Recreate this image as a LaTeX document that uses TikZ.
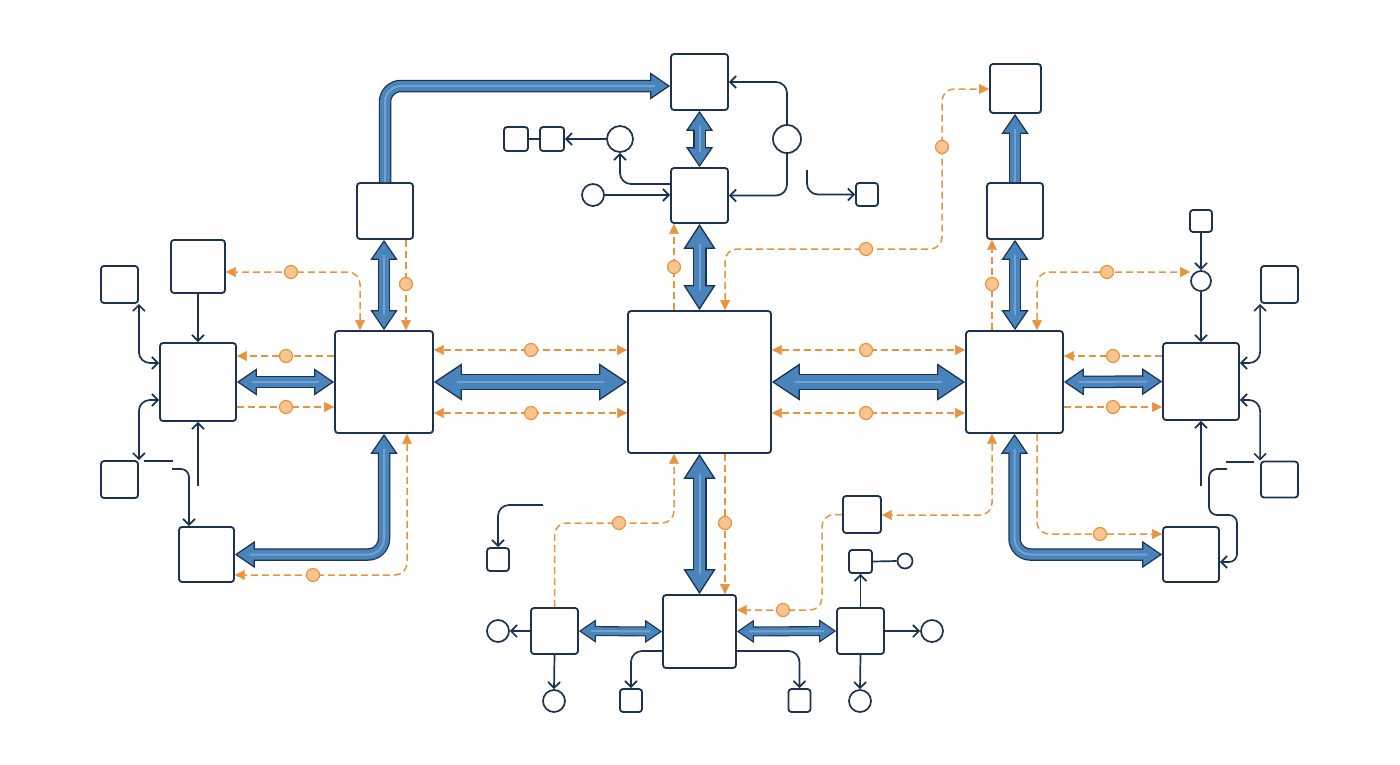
\documentclass[tikz,border=0pt]{standalone}
\usetikzlibrary{arrows.meta}
\definecolor{navy}{HTML}{1B3350}
\definecolor{ablue}{HTML}{4A84BC}
\definecolor{alight}{HTML}{7FAAD4}
\definecolor{aorange}{HTML}{E8943C}
\definecolor{ofill}{HTML}{F8C592}
\tikzset{
  XLtip/.tip={Triangle[width=37pt,length=28pt,fill=ablue,color=navy,line width=1.3pt]},
  Ltip/.tip={Triangle[width=32pt,length=25pt,fill=ablue,color=navy,line width=1.3pt]},
  Mtip/.tip={Triangle[width=27pt,length=20pt,fill=ablue,color=navy,line width=1.2pt]},
  Stip/.tip={Triangle[width=23pt,length=17pt,fill=ablue,color=navy,line width=1.1pt]},
  XLo/.style={draw=navy,line width=16pt}, XLi/.style={draw=ablue,line width=13.4pt},
  Lo/.style={draw=navy,line width=14pt},  Li/.style={draw=ablue,line width=11.5pt},
  Mo/.style={draw=navy,line width=12.5pt},  Mi/.style={draw=ablue,line width=10pt},
  So/.style={draw=navy,line width=10pt},  Si/.style={draw=ablue,line width=7.8pt},
  XLb/.style={shorten <=23pt,shorten >=23pt}, XLe/.style={shorten >=23pt},
  Lb/.style={shorten <=20pt,shorten >=20pt},  Le/.style={shorten >=20pt},
  Mb/.style={shorten <=15pt,shorten >=15pt},  Me/.style={shorten >=15pt},
  Sb/.style={shorten <=12pt,shorten >=12pt},  Se/.style={shorten >=12pt},
  XLbt/.style={arrows={XLtip-XLtip}}, XLet/.style={arrows={-XLtip}},
  Lbt/.style={arrows={Ltip-Ltip}},    Let/.style={arrows={-Ltip}},
  Mbt/.style={arrows={Mtip-Mtip}},    Met/.style={arrows={-Mtip}},
  Sbt/.style={arrows={Stip-Stip}},    Set/.style={arrows={-Stip}},
  stripe/.style={draw=alight,line width=2pt,draw opacity=0.8},
  tipline/.style={draw=ablue,line width=0.2pt},
  box/.style={draw=navy,line width=1.8pt,fill=white,rounded corners=3pt,inner sep=0pt},
  ring/.style={circle,draw=navy,line width=1.7pt,fill=white,inner sep=0pt},
  otip/.tip={Triangle[width=10pt,length=10pt,fill=aorange,color=aorange,line width=0.4pt]},
  ntip/.tip={Straight Barb[length=6pt,width=12pt]},
  odash/.style={draw=aorange,line width=1.5pt,dash pattern=on 7pt off 4pt,rounded corners=12pt},
  nav/.style={draw=navy,line width=1.7pt,rounded corners=11pt},
  omk/.style={circle,draw=aorange,line width=1.2pt,fill=ofill,inner sep=0pt,minimum size=13pt},
}
\newcommand\fat[3]{%
  \draw[#1o,#1#2,rounded corners=16pt] #3;
  \draw[tipline,#1#2t,rounded corners=16pt] #3;
  \draw[#1i,#1#2,rounded corners=16pt] #3;
  \draw[stripe,#1#2,rounded corners=16pt] #3;}
\newcommand\bx[5]{\node[box,minimum width=#4pt,minimum height=#5pt] (#1) at (#2,#3) {};}
\newcommand\rg[4]{\node[ring,minimum size=#4pt] (#1) at (#2,#3) {};}
\begin{document}
\begin{tikzpicture}[x=1pt,y=-1pt]
\fill[white] (0,0) rectangle (1400,764);
\useasboundingbox (0,0) rectangle (1400,764);
% main boxes
\bx{C}{699.5}{382}{143}{142}
\bx{L}{384}{382}{98}{102}
\bx{R}{1014.5}{382}{97}{102}
\bx{LL}{198}{382}{76}{78}
\bx{RR}{1201}{381.5}{76}{77}
\bx{TL}{385}{211}{56}{56}
\bx{T1}{699.5}{82}{57}{56}
\bx{T2}{699.5}{195.5}{57}{55}
\bx{TR1}{1015.5}{88.5}{51}{49}
\bx{TR2}{1015}{211}{56}{56}
\bx{B}{699.5}{631.5}{73}{73}
\bx{BL}{554.5}{631}{47}{46}
\bx{BR}{860.5}{631}{47}{46}
\bx{MB}{862}{514.5}{38}{37}
\bx{LLB}{206.5}{554.5}{55}{55}
\bx{RRB}{1191}{554.5}{56}{55}
\bx{ULB}{198}{266.5}{54}{53}
\bx{FLU}{119.5}{284.5}{37}{37}
\bx{FLD}{119.5}{479.5}{37}{37}
\bx{FRU}{1279.5}{284.5}{37}{37}
\bx{FRD}{1279.5}{479.5}{37}{36}
\bx{TRt}{1201}{221}{22}{22}
\bx{SQ1}{516}{139}{24}{24}
\bx{SQ2}{552}{139}{24}{24}
\bx{SB2}{867}{194.5}{22}{23}
\bx{SB3}{498}{559.5}{22}{23}
\bx{SB4}{860.5}{561.5}{23}{23}
\bx{BB1}{631}{700.5}{22}{23}
\bx{BB2}{799.5}{700.5}{22}{23}
% circles
\rg{RC}{1201}{281}{20}
\rg{TC1}{620}{139}{26}
\rg{TC2}{593}{195}{22}
\rg{TC3}{787}{139}{28}
\rg{SC4}{905}{561}{15}
\rg{BRc1}{932}{631}{22}
\rg{BRc2}{860}{701}{22}
\rg{BLc1}{498}{631}{22}
\rg{BLc2}{554}{701}{22}
% free ends
\coordinate (d1a) at (144,461); \coordinate (d1b) at (173,461);
\coordinate (n5s) at (172,469); \coordinate (n6s) at (198,486);
\coordinate (d2a) at (1226,462); \coordinate (d2b) at (1254,462);
\coordinate (n12s) at (1227,469); \coordinate (n13s) at (1201,486);
\coordinate (n20s) at (807,170); \coordinate (n21s) at (543,505);
% thick blue arrows
\fat{XL}{b}{(L.east) -- (C.west)}
\fat{XL}{b}{(C.east) -- (R.west)}
\fat{M}{b}{(LL.east) -- (L.west)}
\fat{M}{b}{(R.east) -- (RR.west)}
\fat{S}{b}{(BL.east) -- (B.west)}
\fat{S}{b}{(B.east) -- (BR.west)}
\fat{L}{b}{(C.south) -- (B.north)}
\fat{L}{b}{(T2.south) -- (C.north)}
\fat{M}{b}{(T1.south) -- (T2.north)}
\fat{M}{b}{(L.north |- TL.south) -- (L.north)}
\fat{M}{b}{(TR2.south) -- (R.north -| TR2.south)}
\fat{M}{e}{(TR2.north) -- (TR1.south -| TR2.north)}
\fat{M}{e}{(TL.north) |- (T1.west |- 0,86)}
\fat{M}{b}{(L.south) |- (LLB.east)}
\fat{M}{b}{(R.south) |- (RRB.west)}
% orange dashed connectors
\draw[odash,-otip] (L.west |- 0,356) -- (LL.east |- 0,356);
\draw[odash,-otip] (LL.east |- 0,407) -- (L.west |- 0,407);
\draw[odash,otip-otip] (L.north -| 360,0) |- (ULB.east |- 0,272);
\draw[odash,-otip] (TL.south -| 406,0) -- (L.north -| 406,0);
\draw[odash,otip-otip] (L.south -| 407,0) |- (LLB.east |- 0,575);
\draw[odash,otip-otip] (L.east |- 0,350) -- (C.west |- 0,350);
\draw[odash,otip-otip] (L.east |- 0,413) -- (C.west |- 0,413);
\draw[odash,otip-otip] (C.east |- 0,350) -- (R.west |- 0,350);
\draw[odash,otip-otip] (C.east |- 0,413) -- (R.west |- 0,413);
\draw[odash,-otip] (C.north -| 674,0) -- (T2.south -| 674,0);
\draw[odash,otip-otip] (C.north -| 725,0) |- (942,249) |- (TR1.west |- 0,89);
\draw[odash,-otip] (R.north -| 992,0) -- (TR2.south -| 992,0);
\draw[odash,otip-otip] (R.north -| 1037,0) |- (RC.west |- 0,272);
\draw[odash,-otip] (RR.west |- 0,356) -- (R.east |- 0,356);
\draw[odash,-otip] (R.east |- 0,407) -- (RR.west |- 0,407);
\draw[odash,otip-otip] (R.south -| 992,0) |- (MB.east |- 0,515);
\draw[odash,-otip] (R.south -| 1037,0) |- (RRB.west |- 0,534);
\draw[odash,-otip] (BL.north) |- (674,523) -- (C.south -| 674,0);
\draw[odash,-otip] (C.south -| 725,0) -- (B.north -| 725,0);
\draw[odash,-otip] (MB.west) -| (822,610) -- (B.east |- 0,610);
% orange markers
\foreach \n/\x/\y in {a/286/356,b/286/407,c/291/272,d/406/284,e/313/575,f/531/350,g/531/413,h/866/350,i/866/413,j/674/267,k/866/249,l/942/147,m/992/284,n/1107/272,o/1113/356,p/1113/407,q/1100/534,r/619/523,s/725/523,t/783/610}
  \node[omk] (mk\n) at (\x,\y) {};
% navy thin connectors
\draw[nav,-ntip] (ULB.south) -- (LL.north -| ULB.south);
\draw[nav,ntip-ntip] (FLU.south east) |- (LL.west |- 0,363);
\draw[nav,ntip-ntip] (LL.west |- 0,400) -| (FLD.north east);
\draw[nav] (d1a) -- (d1b);
\draw[nav,rounded corners=8pt,-ntip] (n5s) -| (LLB.north -| 189,0);
\draw[nav,-ntip] (n6s) -- (LL.south);
\draw[nav,-ntip] (TRt.south) -- (RC.north);
\draw[nav,-ntip] (RC.south) -- (RR.north);
\draw[nav,ntip-ntip] (FRU.south west) |- (RR.east |- 0,363);
\draw[nav,ntip-ntip] (RR.east |- 0,400) -| (FRD.north west);
\draw[nav] (d2a) -- (d2b);
\draw[nav,rounded corners=8pt,-ntip] (n12s) -| (1209,515) -| (1237,562) -- (RRB.east |- 0,562);
\draw[nav,-ntip] (n13s) -- (RR.south);
\draw[nav] (SQ1.east) -- (SQ2.west);
\draw[nav,-ntip] (TC1.west) -- (SQ2.east);
\draw[nav,-ntip] (T2.west |- 0,184) -| (TC1.south);
\draw[nav,-ntip] (TC2.east) -- (T2.west |- TC2.east);
\draw[nav,-ntip] (TC3.north) |- (T1.east);
\draw[nav,-ntip] (TC3.south) |- (T2.east);
\draw[nav,-ntip] (n20s) |- (SB2.west);
\draw[nav,-ntip] (n21s) -| (SB3.north);
\draw[nav,-ntip] (BL.west) -- (BLc1.east);
\draw[nav,-ntip] (BL.south) -- (BLc2.north);
\draw[nav,-ntip] (B.west |- 0,651) -| (BB1.north);
\draw[nav,-ntip] (B.east |- 0,651) -| (BB2.north);
\draw[nav,-ntip] (BR.north) -- (SB4.south);
\draw[nav] (SB4.east) -- (SC4.west);
\draw[nav,-ntip] (BR.east) -- (BRc1.west);
\draw[nav,-ntip] (BR.south) -- (BRc2.north);
\end{tikzpicture}
\end{document}
